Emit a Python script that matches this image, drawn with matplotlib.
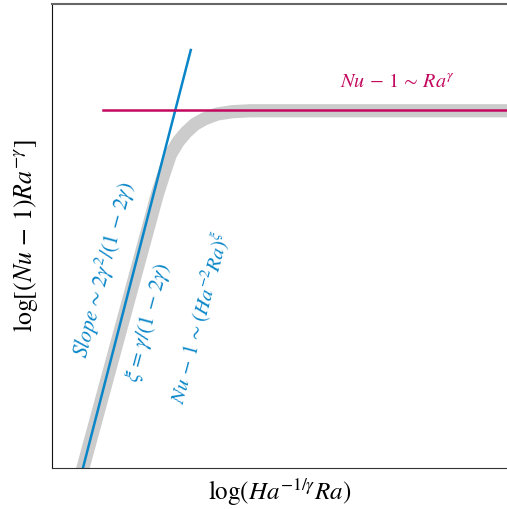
import matplotlib
matplotlib.use("Agg")
from matplotlib import pyplot as plt

plt.rcParams['mathtext.fontset'] = 'stix'
plt.rcParams['font.family'] = ['STIXGeneral', 'DejaVu Serif']

BLUE = '#0a86c8'
MAGENTA = '#c4085e'
GRAY = '#cccccc'

# schematic curve (arbitrary log units, axes span 0..10)
curve_x = [0.58, 0.68, 2.31, 2.45, 2.60, 2.77, 2.95, 3.14, 3.36, 3.63, 3.96, 4.35, 10.5]
curve_y = [-0.36, 0.0, 5.88, 6.31, 6.75, 7.03, 7.24, 7.41, 7.53, 7.63, 7.68, 7.70, 7.70]

# low-Ha^-1/gamma Ra asymptote (blue) and Ra^gamma plateau (magenta)
slope_x = [0.68, 3.05]
slope_y = [0.0, 9.01]
plateau_x = [1.12, 10.5]
plateau_y = [7.72, 7.72]

fig = plt.figure(figsize=(5.07, 5.09), dpi=100)
ax = fig.add_axes([0.1026, 0.0806, 0.8974, 0.9114])

ax.plot(curve_x, curve_y, color=GRAY, lw=9.5, solid_capstyle='butt',
        solid_joinstyle='round', zorder=1)
ax.plot(slope_x, slope_y, color=BLUE, lw=1.8, zorder=2)
ax.plot(plateau_x, plateau_y, color=MAGENTA, lw=1.8, zorder=3)

ax.text(7.58, 8.32, r'$Nu\,-\,1\,\sim\,Ra^{\gamma}$', color=MAGENTA, fontsize=14.5,
        ha='center', va='center')
ax.text(1.16, 4.27, r'$Slope\,\sim\,2\gamma^2/(1\,-\,2\gamma)$', color=BLUE, fontsize=15.5,
        ha='center', va='center', rotation=75, rotation_mode='anchor')
ax.text(2.11, 3.13, r'$\xi\,=\,\gamma/(1\,-\,2\gamma)$', color=BLUE, fontsize=15.5,
        ha='center', va='center', rotation=75, rotation_mode='anchor')
ax.text(3.25, 3.23, r'$Nu\,-\,1\,\sim\,(Ha^{-2}Ra)^{\xi}$', color=BLUE, fontsize=15,
        ha='center', va='center', rotation=75, rotation_mode='anchor')

ax.set_xlim(0, 10)
ax.set_ylim(0, 10)
ax.set_xticks([])
ax.set_yticks([])
ax.spines['right'].set_visible(False)
ax.spines['left'].set_color('#111111')
ax.spines['bottom'].set_color('#333333')
ax.spines['top'].set_color('#666666')
ax.spines['top'].set_linewidth(1.5)

ax.set_xlabel(r'$\log(Ha^{-1/\gamma}Ra)$', fontsize=18, labelpad=6)
ax.set_ylabel(r'$\log[(Nu\,-\,1)Ra^{-\gamma}]$', fontsize=18.5, labelpad=9)

fig.savefig('out.png', dpi=100)
